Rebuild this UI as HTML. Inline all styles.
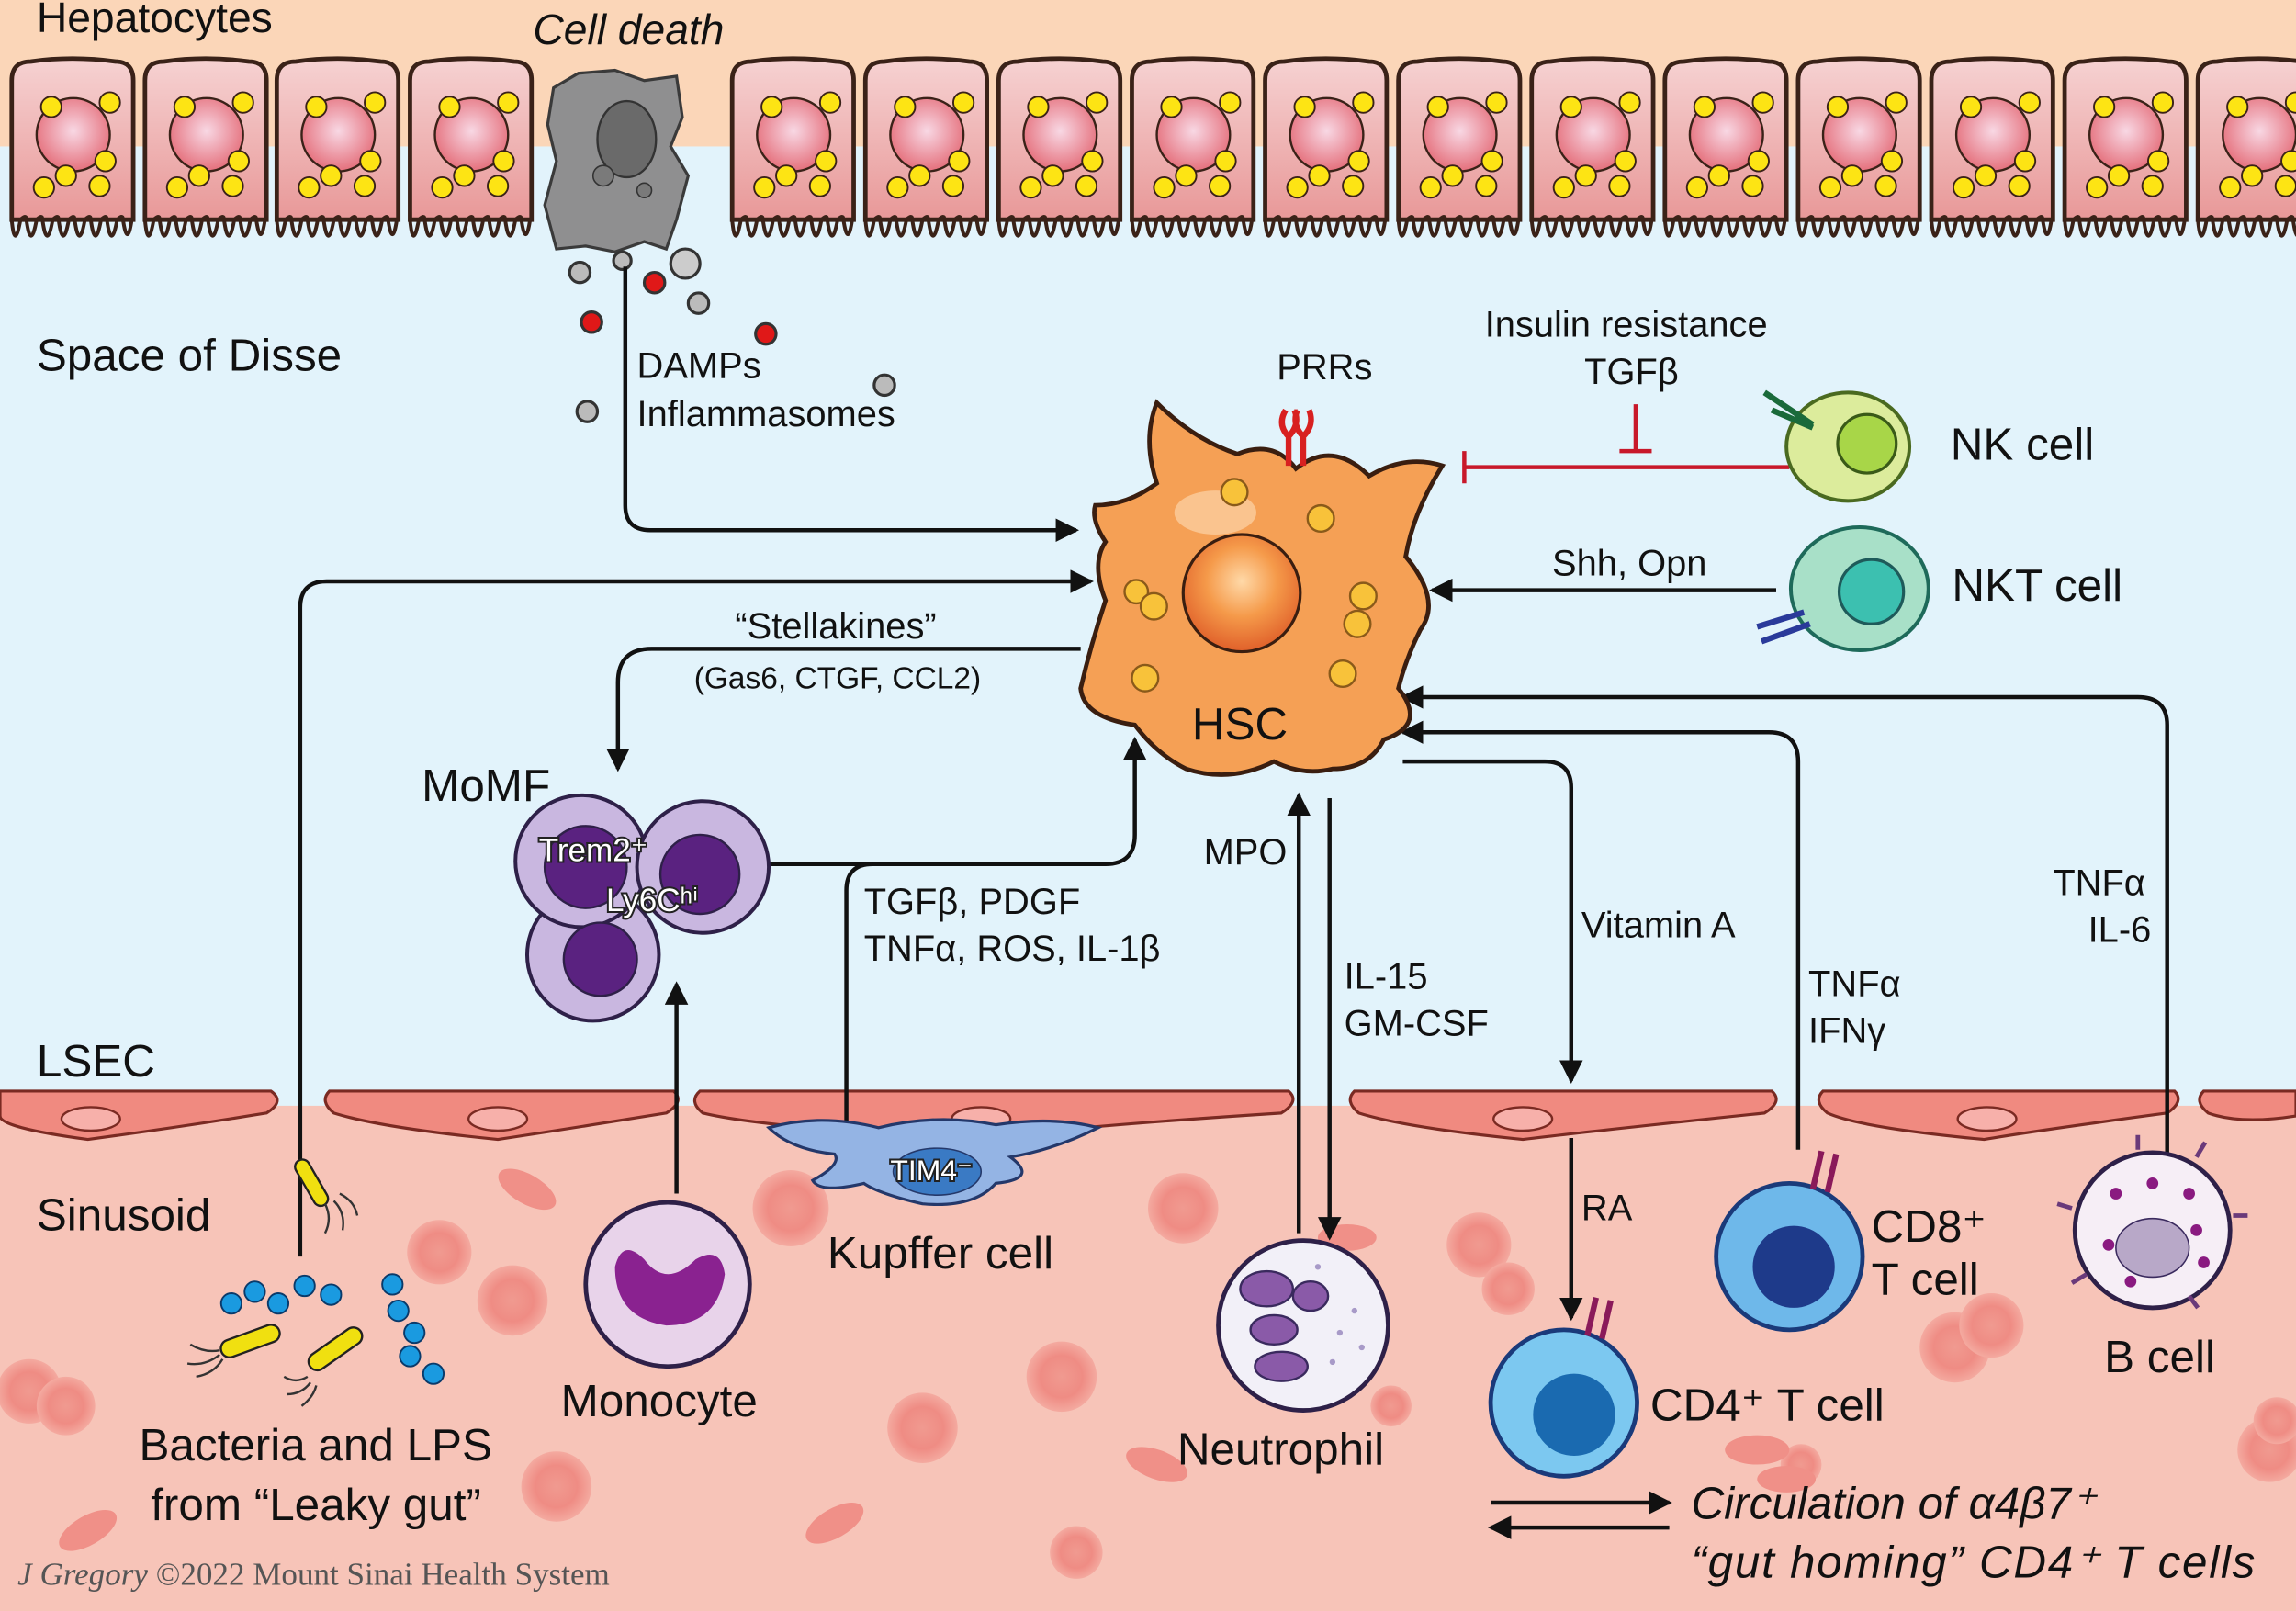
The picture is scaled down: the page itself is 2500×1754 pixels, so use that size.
<!DOCTYPE html>
<html><head><meta charset="utf-8"><style>
html,body{margin:0;padding:0;background:#fff}
svg{display:block}
text{font-family:"Liberation Sans",sans-serif;fill:#111}
</style></head><body>
<svg width="2500" height="1754" viewBox="0 0 1568 1100" preserveAspectRatio="none" xmlns="http://www.w3.org/2000/svg">
<defs>
<radialGradient id="nuc" cx="50%" cy="45%" r="55%"><stop offset="0" stop-color="#f8d8e4"/><stop offset="1" stop-color="#e5707c"/></radialGradient>
<linearGradient id="hep" x1="0" y1="0" x2="0" y2="1"><stop offset="0" stop-color="#f6d2d2"/><stop offset="1" stop-color="#e89898"/></linearGradient>
<radialGradient id="hscn" cx="50%" cy="40%" r="60%"><stop offset="0" stop-color="#ffd9a8"/><stop offset="0.5" stop-color="#f59a4a"/><stop offset="1" stop-color="#e0602a"/></radialGradient>
<radialGradient id="rbc" cx="50%" cy="50%" r="50%"><stop offset="0" stop-color="#f09a90"/><stop offset="0.6" stop-color="#ef8c84"/><stop offset="1" stop-color="#f4aaa0"/></radialGradient>
<marker id="ah2" markerWidth="16" markerHeight="16" refX="14" refY="8" orient="auto" markerUnits="userSpaceOnUse"><path d="M0,0 L16,8 L0,16 z" fill="#111"/></marker>
<g id="h" stroke="#3a2218" stroke-width="3"><path d="M3,150 L3,55 Q3,42 16,42 Q44,38 74,42 Q86,42 86,55 L86,150 Z" fill="url(#hep)"/>
<path d="M3,150 q2,22 6,0 q4,-4 4,0 q3,22 7,0 q4,-4 4,0 q3,22 7,0 q4,-4 4,0 q3,22 7,0 q4,-4 4,0 q3,22 7,0 q4,-4 4,0 q3,22 7,0 q4,-4 4,0 q3,22 7,0 q4,-4 4,0 q3,20 6,0" fill="none" stroke-width="2.5"/>
<circle cx="45" cy="92" r="25" fill="url(#nuc)" stroke-width="1.5"/>
<g fill="#fde414" stroke-width="1.2"><circle cx="30" cy="73" r="7"/><circle cx="70" cy="70" r="7"/><circle cx="67" cy="110" r="7"/><circle cx="25" cy="128" r="7"/><circle cx="40" cy="120" r="7"/><circle cx="63" cy="127" r="7"/></g></g>
</defs>
<rect x="0" y="0" width="1568" height="1100" fill="#e2f3fb"/>
<rect x="0" y="0" width="1568" height="100" fill="#fbd6b8"/>
<rect x="0" y="755" width="1568" height="345" fill="#f7c4b8"/>
<use href="#h" x="5"/><use href="#h" x="96"/><use href="#h" x="186"/><use href="#h" x="277"/>
<use href="#h" x="497"/><use href="#h" x="588"/><use href="#h" x="679"/><use href="#h" x="770"/><use href="#h" x="861"/><use href="#h" x="952"/><use href="#h" x="1043"/><use href="#h" x="1134"/><use href="#h" x="1225"/><use href="#h" x="1316"/><use href="#h" x="1407"/><use href="#h" x="1498"/>
<!-- cell death -->
<path d="M378,60 L395,50 L420,48 L440,55 L462,52 L466,80 L458,100 L470,120 L462,150 L455,170 L440,165 L420,172 L400,168 L380,170 L372,140 L380,110 L374,85 Z" fill="#8f8f90" stroke="#3a3a3a" stroke-width="2"/>
<ellipse cx="428" cy="95" rx="20" ry="26" fill="#6a6a6a" stroke="#333" stroke-width="1.5"/>
<circle cx="412" cy="120" r="7" fill="#7a7a7a" stroke="#333"/><circle cx="440" cy="130" r="5" fill="#7a7a7a" stroke="#333"/>
<g stroke="#333" stroke-width="2"><circle cx="396" cy="186" r="7" fill="#bbb"/><circle cx="425" cy="178" r="6" fill="#bbb"/><circle cx="447" cy="193" r="7" fill="#e01818"/><circle cx="468" cy="180" r="10" fill="#ccc"/><circle cx="477" cy="207" r="7" fill="#bbb"/><circle cx="404" cy="220" r="7" fill="#e01818"/><circle cx="523" cy="228" r="7" fill="#e01818"/><circle cx="401" cy="281" r="7" fill="#bbb"/><circle cx="604" cy="263" r="7" fill="#bbb"/></g>
<!-- LSEC -->
<g fill="#f08a80" stroke="#7a2a22" stroke-width="2">
<path d="M0,745 L185,745 Q195,752 182,760 Q120,770 60,778 Q0,770 0,762 Z"/>
<path d="M225,745 L460,745 Q468,752 455,760 Q380,772 340,778 Q260,770 228,760 Q218,752 225,745 Z"/>
<path d="M478,745 L880,745 Q888,752 875,760 Q720,770 670,778 Q520,770 480,760 Q470,752 478,745 Z"/>
<path d="M925,745 L1210,745 Q1218,752 1205,760 Q1090,772 1040,778 Q960,770 928,760 Q918,752 925,745 Z"/>
<path d="M1245,745 L1485,745 Q1492,752 1480,760 Q1390,772 1355,778 Q1270,770 1248,760 Q1238,752 1245,745 Z"/>
<path d="M1505,745 L1568,745 L1568,762 Q1530,768 1508,760 Q1498,752 1505,745 Z"/>
</g>
<g fill="#f7b0aa" stroke="#7a2a22" stroke-width="1.5"><ellipse cx="62" cy="764" rx="20" ry="8"/><ellipse cx="340" cy="764" rx="20" ry="8"/><ellipse cx="670" cy="764" rx="20" ry="8"/><ellipse cx="1040" cy="764" rx="20" ry="8"/><ellipse cx="1357" cy="764" rx="20" ry="8"/></g>
<!-- RBCs -->
<g fill="url(#rbc)">
<circle cx="540" cy="825" r="26"/><circle cx="808" cy="825" r="24"/><circle cx="300" cy="855" r="22"/><circle cx="350" cy="888" r="24"/><circle cx="380" cy="1015" r="24"/><circle cx="20" cy="950" r="22"/><circle cx="45" cy="960" r="20"/><circle cx="725" cy="940" r="24"/><circle cx="630" cy="975" r="24"/><circle cx="1010" cy="850" r="22"/><circle cx="1030" cy="880" r="18"/><circle cx="1335" cy="920" r="24"/><circle cx="1360" cy="905" r="22"/><circle cx="1550" cy="990" r="22"/><circle cx="1555" cy="970" r="16"/><circle cx="735" cy="1060" r="18"/><circle cx="950" cy="960" r="14"/><circle cx="1230" cy="1000" r="14"/></g>
<g fill="#f09088"><ellipse cx="360" cy="812" rx="22" ry="10" transform="rotate(30 360 812)"/><ellipse cx="570" cy="1040" rx="22" ry="10" transform="rotate(-30 570 1040)"/><ellipse cx="790" cy="1000" rx="22" ry="10" transform="rotate(20 790 1000)"/><ellipse cx="1200" cy="990" rx="22" ry="10"/><ellipse cx="60" cy="1045" rx="22" ry="10" transform="rotate(-30 60 1045)"/><ellipse cx="920" cy="845" rx="20" ry="9"/><ellipse cx="1220" cy="1010" rx="20" ry="9"/></g>
<!-- arrows -->
<g fill="none" stroke="#111" stroke-width="2.8">
<path d="M427,182 L427,345 Q427,362 444,362 L735,362" marker-end="url(#ah2)"/>
<path d="M205,858 L205,415 Q205,397 223,397 L745,397" marker-end="url(#ah2)"/>
<path d="M738,443 L445,443 Q422,443 422,466 L422,525" marker-end="url(#ah2)"/>
<path d="M512,590 L755,590 Q775,590 775,570 L775,505" marker-end="url(#ah2)"/>
<path d="M578,770 L578,608 Q578,590 596,590"/>
<path d="M462,815 L462,672" marker-end="url(#ah2)"/>
<path d="M887,842 L887,543" marker-end="url(#ah2)"/>
<path d="M908,545 L908,845" marker-end="url(#ah2)"/>
<path d="M958,520 L1055,520 Q1073,520 1073,538 L1073,738" marker-end="url(#ah2)"/>
<path d="M1073,777 L1073,900" marker-end="url(#ah2)"/>
<path d="M1228,785 L1228,520 Q1228,500 1208,500 L958,500" marker-end="url(#ah2)"/>
<path d="M1480,800 L1480,495 Q1480,476 1460,476 L958,476" marker-end="url(#ah2)"/>
<path d="M1213,403 L978,403" marker-end="url(#ah2)"/>
<path d="M1018,1026 L1140,1026" marker-end="url(#ah2)"/>
<path d="M1140,1043 L1018,1043" marker-end="url(#ah2)"/>
</g>
<g stroke="#c8182a" stroke-width="2.8" fill="none"><path d="M1222,319 L1000,319 M1000,308 L1000,330 M1117,276 L1117,308 M1106,308 L1128,308"/></g>
<!-- HSC -->
<path d="M790,275 Q815,300 845,310 Q870,300 885,320 Q910,300 935,325 Q960,310 985,318 Q965,350 960,380 Q985,410 970,430 Q960,450 955,470 Q975,495 945,505 Q935,525 910,525 Q890,530 870,520 Q840,535 810,525 Q790,515 775,495 Q740,490 738,470 Q745,440 755,410 Q745,385 755,370 Q745,355 748,345 Q770,345 790,330 Q780,300 790,275 Z" fill="#f5a055" stroke="#3a1e10" stroke-width="3"/>
<ellipse cx="830" cy="350" rx="28" ry="15" fill="#fcd3a8" opacity="0.7"/>
<circle cx="848" cy="405" r="40" fill="url(#hscn)" stroke="#3a1e10" stroke-width="2"/>
<g fill="#f8c23a" stroke="#8a5a1a" stroke-width="1.5"><circle cx="843" cy="336" r="9"/><circle cx="902" cy="354" r="9"/><circle cx="776" cy="404" r="8"/><circle cx="788" cy="414" r="9"/><circle cx="931" cy="407" r="9"/><circle cx="927" cy="426" r="9"/><circle cx="917" cy="460" r="9"/><circle cx="782" cy="463" r="9"/></g>
<path d="M880,318 L880,298 Q872,290 878,280 M880,298 Q888,290 884,280 M890,318 L890,298 Q898,290 894,280 M890,298 Q882,290 886,280" stroke="#d82020" stroke-width="4" fill="none"/>
<!-- NK -->
<ellipse cx="1262" cy="305" rx="42" ry="37" fill="#dcec9c" stroke="#4a6a20" stroke-width="2.5"/><circle cx="1275" cy="303" r="20" fill="#a8d648" stroke="#3a5a18" stroke-width="2"/>
<path d="M1205,268 L1238,290 M1210,280 L1238,292" stroke="#1a6a3a" stroke-width="4"/>
<!-- NKT -->
<ellipse cx="1270" cy="402" rx="47" ry="42" fill="#a8e0c8" stroke="#1e6a5a" stroke-width="2.5"/><circle cx="1278" cy="404" r="22" fill="#3cc0b0" stroke="#1e5a5a" stroke-width="2"/>
<path d="M1200,428 L1232,418 M1203,438 L1236,426" stroke="#2a3a9a" stroke-width="4"/>
<!-- MoMF -->
<g stroke="#2e2048" stroke-width="2.5"><circle cx="405" cy="652" r="45" fill="#c9b7e0"/><circle cx="397" cy="588" r="45" fill="#c9b7e0"/><circle cx="480" cy="592" r="45" fill="#c9b7e0"/></g>
<g fill="#5a2280" stroke="#2e2048" stroke-width="1.5"><circle cx="410" cy="655" r="25"/><circle cx="400" cy="592" r="28"/><circle cx="478" cy="597" r="27"/></g>
<!-- Kupffer -->
<path d="M525,770 Q560,760 600,770 Q640,760 680,768 Q720,762 750,770 Q720,785 690,790 Q710,805 680,808 Q665,825 630,822 Q600,815 590,808 Q560,815 555,806 Q575,795 570,788 Q540,785 525,770 Z" fill="#94b4e4" stroke="#24386a" stroke-width="2"/>
<ellipse cx="640" cy="800" rx="30" ry="16" fill="#3a7ac4" stroke="#24386a"/>
<!-- monocyte -->
<circle cx="456" cy="877" r="56" fill="#e8d3ea" stroke="#2e2048" stroke-width="3"/>
<path d="M420,865 Q425,845 440,860 Q455,880 475,860 Q492,850 495,870 Q490,905 455,905 Q420,900 420,865 Z" fill="#8a2290"/>
<!-- neutrophil -->
<circle cx="890" cy="905" r="58" fill="#f2f0f8" stroke="#2e2048" stroke-width="3"/>
<g fill="#8a5aa8" stroke="#3a2a5e" stroke-width="1.5"><ellipse cx="865" cy="880" rx="18" ry="12"/><ellipse cx="895" cy="885" rx="12" ry="10"/><ellipse cx="870" cy="908" rx="16" ry="10"/><ellipse cx="875" cy="933" rx="18" ry="10"/></g>
<g fill="#a89ac8"><circle cx="915" cy="910" r="2"/><circle cx="925" cy="895" r="2"/><circle cx="910" cy="930" r="2"/><circle cx="930" cy="920" r="2"/><circle cx="900" cy="865" r="2"/></g>
<!-- CD8 -->
<circle cx="1222" cy="858" r="50" fill="#6eb8ea" stroke="#1a3a7a" stroke-width="3"/><circle cx="1225" cy="865" r="28" fill="#1e3a8a"/>
<path d="M1238,812 L1244,786 M1248,814 L1254,788" stroke="#8a1a5a" stroke-width="4"/>
<!-- CD4 -->
<circle cx="1068" cy="958" r="50" fill="#7cc8f0" stroke="#1a3a7a" stroke-width="3"/><circle cx="1075" cy="966" r="28" fill="#1a6ab0"/>
<path d="M1084,912 L1090,886 M1094,914 L1100,888" stroke="#8a1a5a" stroke-width="4"/>
<!-- B cell -->
<circle cx="1470" cy="840" r="53" fill="#f6eef6" stroke="#2e2048" stroke-width="3"/><ellipse cx="1470" cy="852" rx="25" ry="20" fill="#b8a8c8" stroke="#3a2a5e"/>
<g fill="#8a1a80"><circle cx="1445" cy="815" r="4"/><circle cx="1495" cy="815" r="4"/><circle cx="1500" cy="840" r="4"/><circle cx="1440" cy="850" r="4"/><circle cx="1470" cy="808" r="4"/><circle cx="1505" cy="862" r="4"/><circle cx="1455" cy="875" r="4"/></g>
<g stroke="#6a3a7a" stroke-width="3" fill="none"><path d="M1460,785 v-10 M1500,790 l6,-10 M1415,825 l-10,-3 M1425,870 l-10,6 M1495,885 l6,8 M1525,830 l10,0"/></g>
<!-- bacteria -->
<g stroke="#222" stroke-width="1.5"><rect x="208" y="790" width="10" height="35" rx="5" fill="#f0e010" transform="rotate(-30 213 808)"/><rect x="150" y="910" width="42" height="12" rx="6" fill="#f0e010" transform="rotate(-20 170 916)"/><rect x="208" y="915" width="42" height="12" rx="6" fill="#f0e010" transform="rotate(-35 229 921)"/></g>
<g stroke="#333" stroke-width="1.5" fill="none"><path d="M222,822 q5,10 0,20 M228,820 q8,8 6,20 M232,815 q10,5 12,15 M150,922 q-10,2 -20,-4 M150,925 q-10,8 -22,6 M152,928 q-6,10 -18,12 M210,940 q-8,5 -16,0 M212,944 q-6,8 -16,8 M216,946 q-2,8 -10,14"/></g>
<g fill="#1a9ae0" stroke="#0a3a6a" stroke-width="1.2"><circle cx="158" cy="890" r="7"/><circle cx="174" cy="882" r="7"/><circle cx="190" cy="890" r="7"/><circle cx="208" cy="878" r="7"/><circle cx="226" cy="884" r="7"/><circle cx="268" cy="877" r="7"/><circle cx="272" cy="895" r="7"/><circle cx="283" cy="910" r="7"/><circle cx="280" cy="926" r="7"/><circle cx="296" cy="938" r="7"/></g>
<!-- labels -->
<text x="25" y="22" font-size="29">Hepatocytes</text>
<text x="364" y="30" font-size="29" font-style="italic">Cell death</text>
<text x="25" y="253" font-size="31">Space of Disse</text>
<text x="435" y="258" font-size="25">DAMPs</text>
<text x="435" y="291" font-size="25">Inflammasomes</text>
<text x="872" y="259" font-size="25">PRRs</text>
<text x="1014" y="230" font-size="25">Insulin resistance</text>
<text x="1082" y="262" font-size="25">TGFβ</text>
<text x="1332" y="314" font-size="31">NK cell</text>
<text x="1333" y="410" font-size="31">NKT cell</text>
<text x="1060" y="393" font-size="25">Shh, Opn</text>
<text x="502" y="436" font-size="25">“Stellakines”</text>
<text x="474" y="470" font-size="21">(Gas6, CTGF, CCL2)</text>
<text x="814" y="505" font-size="31">HSC</text>
<text x="288" y="547" font-size="31">MoMF</text>
<text x="368" y="588" font-size="22" fill="#fff" stroke="#222" stroke-width="2.5" paint-order="stroke" style="fill:#fff">Trem2⁺</text>
<text x="414" y="622" font-size="22" fill="#fff" stroke="#222" stroke-width="2.5" paint-order="stroke" style="fill:#fff">Ly6Cʰⁱ</text>
<text x="590" y="624" font-size="25">TGFβ, PDGF</text>
<text x="590" y="656" font-size="25">TNFα, ROS, IL-1β</text>
<text x="822" y="590" font-size="25">MPO</text>
<text x="918" y="675" font-size="25">IL-15</text>
<text x="918" y="707" font-size="25">GM-CSF</text>
<text x="1080" y="640" font-size="25">Vitamin A</text>
<text x="1235" y="680" font-size="25">TNFα</text>
<text x="1235" y="712" font-size="25">IFNγ</text>
<text x="1402" y="611" font-size="25">TNFα</text>
<text x="1426" y="643" font-size="25">IL-6</text>
<text x="25" y="735" font-size="31">LSEC</text>
<text x="25" y="840" font-size="31">Sinusoid</text>
<text x="608" y="806" font-size="20" fill="#fff" stroke="#222" stroke-width="2.5" paint-order="stroke" style="fill:#fff">TIM4⁻</text>
<text x="565" y="866" font-size="31">Kupffer cell</text>
<text x="1080" y="833" font-size="25">RA</text>
<text x="1278" y="848" font-size="31">CD8⁺</text>
<text x="1278" y="884" font-size="31">T cell</text>
<text x="1437" y="937" font-size="31">B cell</text>
<text x="383" y="967" font-size="31">Monocyte</text>
<text x="1127" y="970" font-size="31">CD4⁺ T cell</text>
<text x="804" y="1000" font-size="31">Neutrophil</text>
<text x="95" y="997" font-size="31">Bacteria and LPS</text>
<text x="103" y="1038" font-size="31">from “Leaky gut”</text>
<text x="1155" y="1037" font-size="31" font-style="italic">Circulation of α4β7⁺</text>
<text x="1155" y="1077" font-size="31" font-style="italic" textLength="385">“gut homing” CD4⁺ T cells</text>
<text x="12" y="1082" font-size="22" style="font-family:'Liberation Serif',serif;fill:#555"><tspan font-style="italic">J Gregory</tspan> ©2022 Mount Sinai Health System</text>
</svg>
</body></html>
